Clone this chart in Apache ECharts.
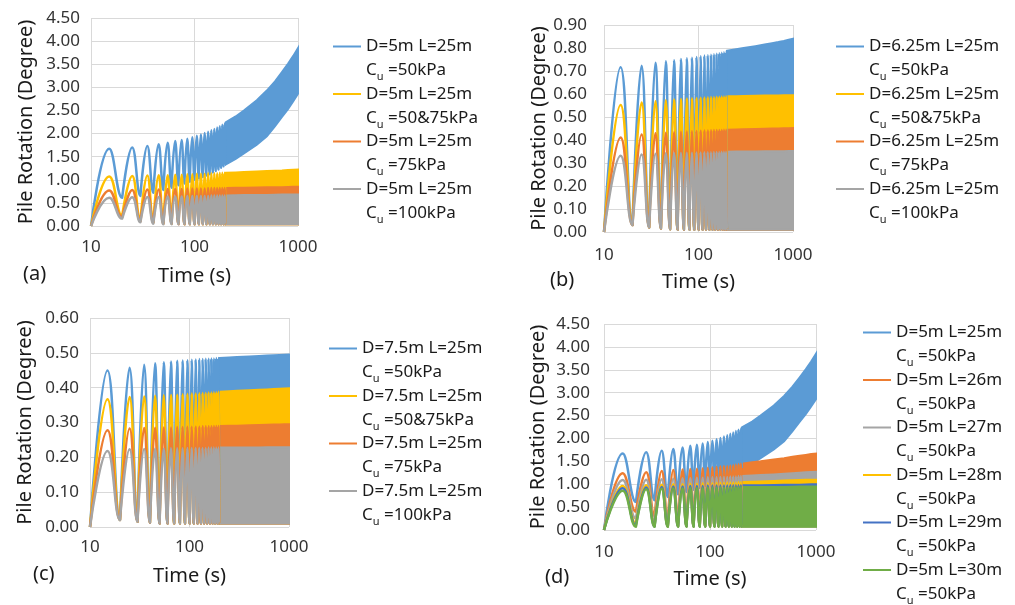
<!DOCTYPE html>
<html><head><meta charset="utf-8">
<script src="https://cdn.jsdelivr.net/npm/echarts@6/dist/echarts.min.js"></script>
<style>html,body{margin:0;padding:0;background:#fff}#c{width:1015px;height:605px}</style>
</head><body><div id="c"></div>
<script>
// ---- time samples (s) ----
const startT = 10, startV = 0;                       // every curve starts at 0 at t = 10 s
const peakT   = [15,25,35,45,55,65,75,85,95,105,115,125,135,145,155,165,175,185,195];
const troughT = [20,30,40,50,60,70,80,90,100,110,120,130,140,150,160,170,180,190,200];
// beyond 200 s the cycles read as a solid band: envelope samples
const bandT = [200,250,300,400,500,600,700,800,900,1000];
const xTicks = ['10','100','1000'];

// ---- panel (a): D=5m L=25m ----
const aBlueP  = [1.67,1.70,1.73,1.77,1.80,1.84,1.86,1.89,1.92,1.95,1.98,2.01,2.04,2.07,2.10,2.13,2.16,2.19,2.21];
const aBlueT  = [0.61,0.65,0.72,0.78,0.83,0.88,0.92,0.96,1.00,1.03,1.06,1.09,1.12,1.16,1.19,1.22,1.26,1.29,1.33];
const aBlueHi = [2.24,2.37,2.50,2.72,2.93,3.13,3.33,3.51,3.68,3.85];
const aBlueLo = [1.33,1.45,1.57,1.76,1.94,2.16,2.36,2.53,2.70,2.86];
const aYelP   = [1.07,1.08,1.09,1.10,1.10,1.11,1.11,1.12,1.12,1.13,1.13,1.13,1.14,1.14,1.14,1.14,1.15,1.15,1.15];
const aYelT   = [0.22,0.12,0.08,0.06,0.05,0.05,0.04,0.04,0.04,0.04,0.04,0.04,0.04,0.04,0.04,0.04,0.04,0.04,0.04];
const aYelHi  = [1.15,1.16,1.17,1.18,1.19,1.195,1.20,1.21,1.215,1.22];
const aOraP   = [0.77,0.78,0.79,0.79,0.80,0.80,0.80,0.81,0.81,0.81,0.81,0.81,0.82,0.82,0.82,0.82,0.82,0.82,0.82];
const aOraT   = [0.19,0.10,0.07,0.05,0.05,0.04,0.04,0.04,0.04,0.04,0.04,0.04,0.04,0.04,0.04,0.04,0.04,0.04,0.04];
const aOraHi  = [0.82,0.825,0.83,0.835,0.84,0.84,0.84,0.845,0.85,0.85];
const aGryP   = [0.61,0.62,0.63,0.63,0.64,0.64,0.64,0.65,0.65,0.65,0.65,0.65,0.65,0.66,0.66,0.66,0.66,0.66,0.66];
const aGryT   = [0.16,0.08,0.05,0.04,0.04,0.04,0.04,0.04,0.04,0.04,0.04,0.04,0.04,0.04,0.04,0.04,0.04,0.04,0.04];
const aGryHi  = [0.66,0.665,0.67,0.67,0.67,0.675,0.68,0.68,0.68,0.68];
const aLo     = [0.04,0.04,0.04,0.04,0.04,0.04,0.04,0.04,0.04,0.04];

// ---- panel (b): D=6.25m L=25m ----
const bTr     = [0.03,0.02,0.015,0.012,0.01,0.01,0.01,0.01,0.01,0.01,0.01,0.01,0.01,0.01,0.01,0.01,0.01,0.01,0.01];
const bLo     = [0.01,0.01,0.01,0.01,0.01,0.01,0.01,0.01,0.01,0.01];
const bBlueP  = [0.716,0.723,0.736,0.742,0.747,0.752,0.755,0.758,0.761,0.764,0.767,0.769,0.771,0.773,0.775,0.777,0.779,0.781,0.783];
const bBlueHi = [0.788,0.795,0.800,0.808,0.815,0.821,0.826,0.831,0.836,0.840];
const bYelP   = [0.552,0.563,0.569,0.573,0.576,0.578,0.580,0.582,0.583,0.584,0.585,0.586,0.587,0.587,0.588,0.588,0.589,0.589,0.590];
const bYelHi  = [0.590,0.5905,0.591,0.592,0.593,0.5935,0.594,0.5945,0.595,0.595];
const bOraP   = [0.411,0.424,0.429,0.432,0.434,0.436,0.437,0.438,0.439,0.440,0.441,0.441,0.442,0.443,0.443,0.444,0.444,0.445,0.445];
const bOraHi  = [0.445,0.446,0.447,0.448,0.449,0.4495,0.450,0.451,0.451,0.452];
const bGryP   = [0.331,0.337,0.340,0.342,0.343,0.344,0.345,0.345,0.346,0.346,0.347,0.347,0.347,0.348,0.348,0.348,0.349,0.349,0.349];
const bGryHi  = [0.349,0.3495,0.350,0.3505,0.351,0.351,0.351,0.3515,0.352,0.352];

// ---- panel (c): D=7.5m L=25m ----
const cTr     = [0.02,0.015,0.012,0.01,0.01,0.01,0.01,0.01,0.01,0.01,0.01,0.01,0.01,0.01,0.01,0.01,0.01,0.01,0.01];
const cLo     = [0.01,0.01,0.01,0.01,0.01,0.01,0.01,0.01,0.01,0.01];
const cBlueP  = [0.449,0.457,0.466,0.470,0.473,0.475,0.477,0.478,0.479,0.480,0.481,0.482,0.482,0.483,0.483,0.484,0.484,0.485,0.485];
const cBlueHi = [0.485,0.4865,0.488,0.4895,0.491,0.492,0.493,0.494,0.4945,0.495];
const cYelP   = [0.367,0.373,0.375,0.377,0.378,0.379,0.380,0.381,0.382,0.383,0.383,0.384,0.385,0.385,0.386,0.386,0.387,0.387,0.388];
const cYelHi  = [0.388,0.3895,0.391,0.3925,0.394,0.395,0.396,0.397,0.3975,0.398];
const cOraP   = [0.278,0.283,0.284,0.285,0.286,0.286,0.287,0.287,0.288,0.288,0.288,0.288,0.289,0.289,0.289,0.289,0.290,0.290,0.290];
const cOraHi  = [0.290,0.2905,0.291,0.292,0.293,0.2935,0.294,0.2945,0.295,0.295];
const cGryP   = [0.218,0.223,0.224,0.225,0.225,0.226,0.226,0.226,0.227,0.227,0.227,0.227,0.227,0.227,0.228,0.228,0.228,0.228,0.228];
const cGryHi  = [0.228,0.228,0.228,0.2285,0.2285,0.229,0.229,0.229,0.229,0.229];

// ---- panel (d): D=5m, L=25..30m, Cu=50kPa ----
const dL25P  = [1.67,1.70,1.73,1.77,1.80,1.84,1.86,1.89,1.92,1.95,1.98,2.01,2.04,2.07,2.10,2.13,2.16,2.19,2.21];
const dL25T  = [0.61,0.65,0.72,0.78,0.83,0.88,0.92,0.96,1.00,1.03,1.06,1.09,1.12,1.16,1.19,1.22,1.26,1.29,1.33];
const dL25Hi = [2.24,2.37,2.50,2.72,2.93,3.13,3.33,3.51,3.68,3.85];
const dL25Lo = [1.33,1.45,1.57,1.76,1.94,2.16,2.36,2.53,2.70,2.86];
const dL26P  = [1.24,1.26,1.29,1.31,1.32,1.33,1.34,1.35,1.36,1.37,1.38,1.39,1.40,1.40,1.41,1.42,1.43,1.44,1.45];
const dL26T  = [0.40,0.30,0.22,0.17,0.14,0.12,0.10,0.09,0.08,0.08,0.08,0.08,0.08,0.08,0.08,0.08,0.08,0.08,0.08];
const dL26Hi = [1.45,1.48,1.50,1.54,1.57,1.60,1.62,1.64,1.66,1.67];
const dL27P  = [1.09,1.10,1.11,1.12,1.13,1.13,1.14,1.14,1.15,1.15,1.15,1.16,1.16,1.16,1.17,1.17,1.17,1.18,1.18];
const dL27T  = [0.25,0.16,0.12,0.10,0.09,0.08,0.08,0.08,0.08,0.08,0.08,0.08,0.08,0.08,0.08,0.08,0.08,0.08,0.08];
const dL27Hi = [1.18,1.19,1.20,1.215,1.23,1.24,1.25,1.26,1.265,1.27];
const dL28P  = [0.96,0.98,0.99,1.00,1.00,1.01,1.01,1.02,1.02,1.02,1.03,1.03,1.03,1.04,1.04,1.04,1.04,1.05,1.05];
const dL28T  = [0.14,0.10,0.08,0.08,0.08,0.08,0.08,0.08,0.08,0.08,0.08,0.08,0.08,0.08,0.08,0.08,0.08,0.08,0.08];
const dL28Hi = [1.05,1.055,1.06,1.07,1.08,1.085,1.09,1.095,1.10,1.10];
const dL29P  = [0.91,0.93,0.94,0.95,0.95,0.96,0.96,0.96,0.97,0.97,0.97,0.97,0.97,0.97,0.98,0.98,0.98,0.98,0.98];
const dL29T  = [0.10,0.08,0.08,0.08,0.08,0.08,0.08,0.08,0.08,0.08,0.08,0.08,0.08,0.08,0.08,0.08,0.08,0.08,0.08];
const dL29Hi = [0.98,0.98,0.98,0.985,0.99,0.99,0.99,0.995,1.00,1.00];
const dL30P  = [0.86,0.89,0.90,0.91,0.91,0.92,0.92,0.92,0.93,0.93,0.93,0.93,0.93,0.93,0.93,0.94,0.94,0.94,0.94];
const dL30T  = [0.07,0.07,0.07,0.07,0.07,0.07,0.07,0.07,0.07,0.07,0.07,0.07,0.07,0.07,0.07,0.07,0.07,0.07,0.07];
const dL30Hi = [0.94,0.94,0.94,0.94,0.94,0.945,0.95,0.95,0.95,0.95];
const dLo08  = [0.08,0.08,0.08,0.08,0.08,0.08,0.08,0.08,0.08,0.08];
const dLo07  = [0.07,0.07,0.07,0.07,0.07,0.07,0.07,0.07,0.07,0.07];

const C_BLUE='#5B9BD5', C_ORA='#ED7D31', C_GRY='#A5A5A5', C_YEL='#FFC000', C_DBL='#4472C4', C_GRN='#70AD47';
const FONT = 'Noto Sans';

const panels = [
  { grid:{left:91,top:18,width:207,height:208}, yMax:4.5, yInt:0.5, xm:13, ym:11, yGap:55, xGap:40,
    legend:{left:333, y:45}, tag:{text:'(a)', x:23, y:277},
    series:[
      {n:'D=5m L=25m', cu:'50kPa',    c:C_BLUE, p:aBlueP, t:aBlueT, hi:aBlueHi, lo:aBlueLo},
      {n:'D=5m L=25m', cu:'50&75kPa', c:C_YEL,  p:aYelP,  t:aYelT,  hi:aYelHi,  lo:aLo},
      {n:'D=5m L=25m', cu:'75kPa',    c:C_ORA,  p:aOraP,  t:aOraT,  hi:aOraHi,  lo:aLo},
      {n:'D=5m L=25m', cu:'100kPa',   c:C_GRY,  p:aGryP,  t:aGryT,  hi:aGryHi,  lo:aLo}]},
  { grid:{left:604,top:25,width:189,height:207}, yMax:0.9, yInt:0.1, xm:15, ym:17, yGap:53, xGap:40,
    legend:{left:836, y:45}, tag:{text:'(b)', x:550, y:283},
    series:[
      {n:'D=6.25m L=25m', cu:'50kPa',    c:C_BLUE, p:bBlueP, t:bTr, hi:bBlueHi, lo:bLo},
      {n:'D=6.25m L=25m', cu:'50&75kPa', c:C_YEL,  p:bYelP,  t:bTr, hi:bYelHi,  lo:bLo},
      {n:'D=6.25m L=25m', cu:'75kPa',    c:C_ORA,  p:bOraP,  t:bTr, hi:bOraHi,  lo:bLo},
      {n:'D=6.25m L=25m', cu:'100kPa',   c:C_GRY,  p:bGryP,  t:bTr, hi:bGryHi,  lo:bLo}]},
  { grid:{left:90,top:318,width:199,height:209}, yMax:0.6, yInt:0.1, xm:12, ym:11, yGap:55, xGap:39,
    legend:{left:329, y:347}, tag:{text:'(c)', x:33, y:577},
    series:[
      {n:'D=7.5m L=25m', cu:'50kPa',    c:C_BLUE, p:cBlueP, t:cTr, hi:cBlueHi, lo:cLo},
      {n:'D=7.5m L=25m', cu:'50&75kPa', c:C_YEL,  p:cYelP,  t:cTr, hi:cYelHi,  lo:cLo},
      {n:'D=7.5m L=25m', cu:'75kPa',    c:C_ORA,  p:cOraP,  t:cTr, hi:cOraHi,  lo:cLo},
      {n:'D=7.5m L=25m', cu:'100kPa',   c:C_GRY,  p:cGryP,  t:cTr, hi:cGryHi,  lo:cLo}]},
  { grid:{left:604,top:324,width:212,height:206}, yMax:4.5, yInt:0.5, xm:14, ym:14, yGap:56, xGap:39,
    legend:{left:863, y:331}, tag:{text:'(d)', x:545, y:580},
    series:[
      {n:'D=5m L=25m', cu:'50kPa', c:C_BLUE, p:dL25P, t:dL25T, hi:dL25Hi, lo:dL25Lo},
      {n:'D=5m L=26m', cu:'50kPa', c:C_ORA,  p:dL26P, t:dL26T, hi:dL26Hi, lo:dLo08},
      {n:'D=5m L=27m', cu:'50kPa', c:C_GRY,  p:dL27P, t:dL27T, hi:dL27Hi, lo:dLo08},
      {n:'D=5m L=28m', cu:'50kPa', c:C_YEL,  p:dL28P, t:dL28T, hi:dL28Hi, lo:dLo08},
      {n:'D=5m L=29m', cu:'50kPa', c:C_DBL,  p:dL29P, t:dL29T, hi:dL29Hi, lo:dLo08},
      {n:'D=5m L=30m', cu:'50kPa', c:C_GRN,  p:dL30P, t:dL30T, hi:dL30Hi, lo:dLo07}]}
];

// Line points: start, then peak / trough alternating. Each trough is emitted as two
// coincident-looking points so the smoothed curve keeps a sharp cusp there.
function archData(s){
  const out = [[startT, startV]];
  for (let i = 0; i < peakT.length; i++){
    out.push([peakT[i], s.p[i]]);
    out.push([troughT[i]*0.9999, s.t[i]]);
    out.push([troughT[i]*1.0001, s.t[i]]);
  }
  return out;
}

const LINE_H = 24;
const labelMap = {};
const option = {
  animation:false, backgroundColor:'#fff',
  textStyle:{fontFamily:FONT},
  grid:[], xAxis:[], yAxis:[], series:[], legend:[], graphic:[]
};

panels.forEach((p, pi) => {
  option.grid.push(Object.assign({containLabel:false}, p.grid));
  option.xAxis.push({
    type:'log', logBase:10, min:10, max:1000, gridIndex:pi,
    name:'Time (s)', nameLocation:'middle', nameGap:p.xGap,
    nameTextStyle:{fontSize:20, color:'#1a1a1a', fontFamily:FONT},
    axisLine:{show:false}, axisTick:{show:false},
    axisLabel:{fontSize:17, color:'#333', fontFamily:FONT, margin:p.xm,
      formatter:(v)=>{ const s=String(Math.round(v)); return xTicks.includes(s)?s:''; }},
    splitLine:{show:true, lineStyle:{color:'#D9D9D9', width:1}},
    minorSplitLine:{show:false}
  });
  option.yAxis.push({
    type:'value', min:0, max:p.yMax, interval:p.yInt, gridIndex:pi,
    name:'Pile Rotation (Degree)', nameLocation:'middle', nameGap:p.yGap,
    nameTextStyle:{fontSize:20, color:'#1a1a1a', fontFamily:FONT},
    axisLine:{show:false}, axisTick:{show:false},
    axisLabel:{fontSize:17, color:'#333', fontFamily:FONT, margin:p.ym, formatter:(v)=>v.toFixed(2)},
    splitLine:{show:true, lineStyle:{color:'#D9D9D9', width:1}}
  });
  const names = [];
  p.series.forEach((s, si) => {
    const id = 'p'+pi+'s'+si;
    names.push(id);
    labelMap[id] = '{m|'+s.n+'}\n{m|C}{s|u}{m| ='+s.cu+'}';
    option.series.push({
      type:'line', name:id, xAxisIndex:pi, yAxisIndex:pi,
      data: archData(s),
      smooth:0.45, showSymbol:false, symbol:'none', silent:true,
      color:s.c, itemStyle:{color:s.c},
      lineStyle:{color:s.c, width:2.5}
    });
    const T = bandT, hi = s.hi, lo = s.lo, col = s.c;
    option.series.push({
      type:'custom', name:id, xAxisIndex:pi, yAxisIndex:pi, silent:true,
      color:col, itemStyle:{color:col},
      data: T.map((t,i)=>[t, lo[i], hi[i]]),
      encode:{x:0, y:[1,2]},
      renderItem:(params, api) => {
        if (params.dataIndex !== 0) return null;
        const pts = [];
        for (let i=0;i<T.length;i++) pts.push(api.coord([T[i], hi[i]]));
        for (let i=T.length-1;i>=0;i--) pts.push(api.coord([T[i], lo[i]]));
        return {type:'polygon', shape:{points:pts}, style:{fill:col, stroke:col, lineWidth:2}};
      }
    });
  });
  option.legend.push({
    data:names, orient:'vertical', left:p.legend.left, top:p.legend.y - 7,
    width:180, height:400,
    padding:0, itemGap:3, itemWidth:28, itemHeight:2, icon:'rect',
    selectedMode:false,
    formatter:(name)=>labelMap[name],
    textStyle:{padding:[LINE_H,0,0,0], fontFamily:FONT,
      rich:{
        m:{fontSize:17, lineHeight:LINE_H, color:'#1a1a1a', fontFamily:FONT},
        s:{fontSize:11, verticalAlign:'bottom', color:'#1a1a1a', fontFamily:FONT}
      }}
  });
  option.graphic.push({type:'text', left:p.tag.x, top:p.tag.y - 13,
    style:{text:p.tag.text, fontSize:20, fill:'#1a1a1a', fontFamily:FONT}});
});

const chart = echarts.init(document.getElementById('c'), null, {renderer:'canvas'});
chart.setOption(option);
</script></body></html>
